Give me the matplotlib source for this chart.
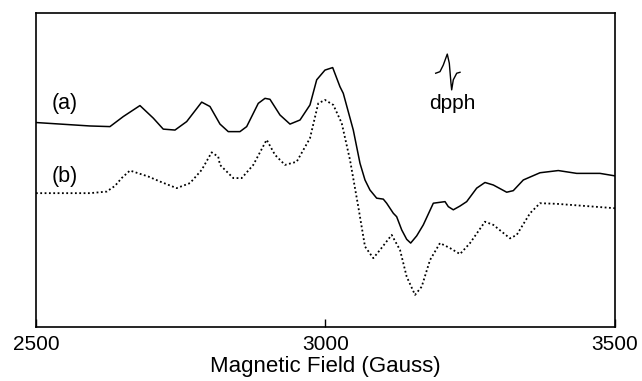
import matplotlib
matplotlib.use('Agg')
import matplotlib.pyplot as plt

# EPR spectra, field in Gauss, intensity in arbitrary units
field_a = [2500, 2593.3, 2627.8, 2650.8, 2679.6, 2702.6, 2719.8, 2740.1, 2760.3, 2786.2,
           2800.5, 2817.8, 2832.1, 2852.3, 2863.9, 2883.9, 2895.5, 2904.1, 2921.4, 2938.7,
           2956.0, 2973.2, 2984.8, 2999.1, 3012.4, 3025.0, 3030.7, 3048.0, 3059.6, 3068.2,
           3076.8, 3088.4, 3099.8, 3105.6, 3117.1, 3122.9, 3131.6, 3140.2, 3147.1, 3157.5,
           3168.9, 3186.2, 3206.4, 3212.1, 3220.7, 3232.3, 3243.8, 3261.1, 3275.4, 3289.8,
           3312.9, 3324.3, 3341.6, 3370.4, 3402.0, 3433.8, 3474.0, 3500]
signal_a = [65.1, 64.0, 63.8, 67.0, 70.5, 66.5, 63.0, 62.7, 65.4, 71.6,
            70.2, 64.6, 62.2, 62.2, 63.8, 71.2, 72.8, 72.5, 67.5, 64.6,
            65.9, 70.7, 78.7, 81.8, 82.6, 76.5, 74.4, 62.7, 52.1, 46.8,
            43.6, 41.0, 40.7, 39.4, 36.2, 35.1, 30.9, 27.9, 26.7, 29.0,
            32.5, 39.4, 39.9, 38.3, 37.3, 38.5, 39.9, 44.2, 46.0, 45.2,
            42.9, 43.4, 46.8, 49.1, 49.8, 48.9, 48.9, 48.1]

field_b = [2500, 2593.3, 2622.1, 2636.4, 2648.0, 2662.3, 2694.0, 2714.2, 2743.0, 2766.0,
           2786.2, 2803.4, 2814.8, 2817.8, 2840.8, 2855.3, 2875.3, 2898.4, 2912.8, 2930.0,
           2950.2, 2973.2, 2987.5, 2999.1, 3013.5, 3028.0, 3042.3, 3056.6, 3068.2, 3082.5,
           3094.1, 3114.3, 3128.7, 3140.2, 3154.6, 3166.1, 3180.5, 3197.7, 3215.0, 3232.3,
           3249.6, 3275.4, 3289.8, 3318.6, 3330.2, 3353.2, 3370.4, 3399.3, 3500]
signal_b = [42.6, 42.6, 43.1, 44.9, 47.4, 49.8, 47.9, 46.3, 44.2, 45.8,
            50.0, 55.6, 54.2, 51.6, 47.4, 47.4, 51.6, 59.6, 54.8, 51.6,
            52.6, 60.1, 71.2, 72.3, 70.7, 64.9, 53.2, 38.3, 25.6, 21.9,
            24.5, 29.3, 24.5, 16.0, 10.2, 12.8, 21.3, 26.7, 25.1, 23.2,
            26.7, 33.5, 32.5, 28.2, 29.3, 36.2, 39.4, 39.2, 37.8]

# small dpph reference line
dpph_field = [3190.3, 3197.7, 3203.4, 3210.3, 3213.8, 3216.7, 3217.9, 3220.7, 3226.6, 3232.3]
dpph_signal = [80.8, 81.3, 83.4, 86.9, 84.0, 77.6, 75.5, 78.7, 80.8, 81.1]

xticks = [2500, 3000, 3500]

plt.rcParams['font.family'] = ['Liberation Sans', 'DejaVu Sans']

fig = plt.figure(figsize=(6.42, 3.81), dpi=100)
ax = fig.add_axes([0.056, 0.142, 0.902, 0.824])

ax.plot(field_a, signal_a, color='black', lw=1.1)
ax.plot(field_b, signal_b, color='black', lw=1.3, linestyle=(0, (1, 1.4)))
ax.plot(dpph_field, dpph_signal, color='black', lw=1.0)

ax.text(2550.1, 71.0, '(a)', fontsize=15.5, ha='center', va='center')
ax.text(2550.1, 47.9, '(b)', fontsize=15.5, ha='center', va='center')
ax.text(3219.3, 71.0, 'dpph', fontsize=15, ha='center', va='center')

ax.set_xlim(2500, 3500)
ax.set_ylim(0, 100)
ax.set_xticks(xticks)
ax.set_xticklabels([str(t) for t in xticks])
ax.set_yticks([])
ax.tick_params(axis='x', direction='in', length=6, width=1, labelsize=15, pad=6)
for s in ax.spines.values():
    s.set_linewidth(1.2)
ax.set_xlabel('Magnetic Field (Gauss)', fontsize=16, labelpad=1)

fig.savefig('out.png', dpi=100)
